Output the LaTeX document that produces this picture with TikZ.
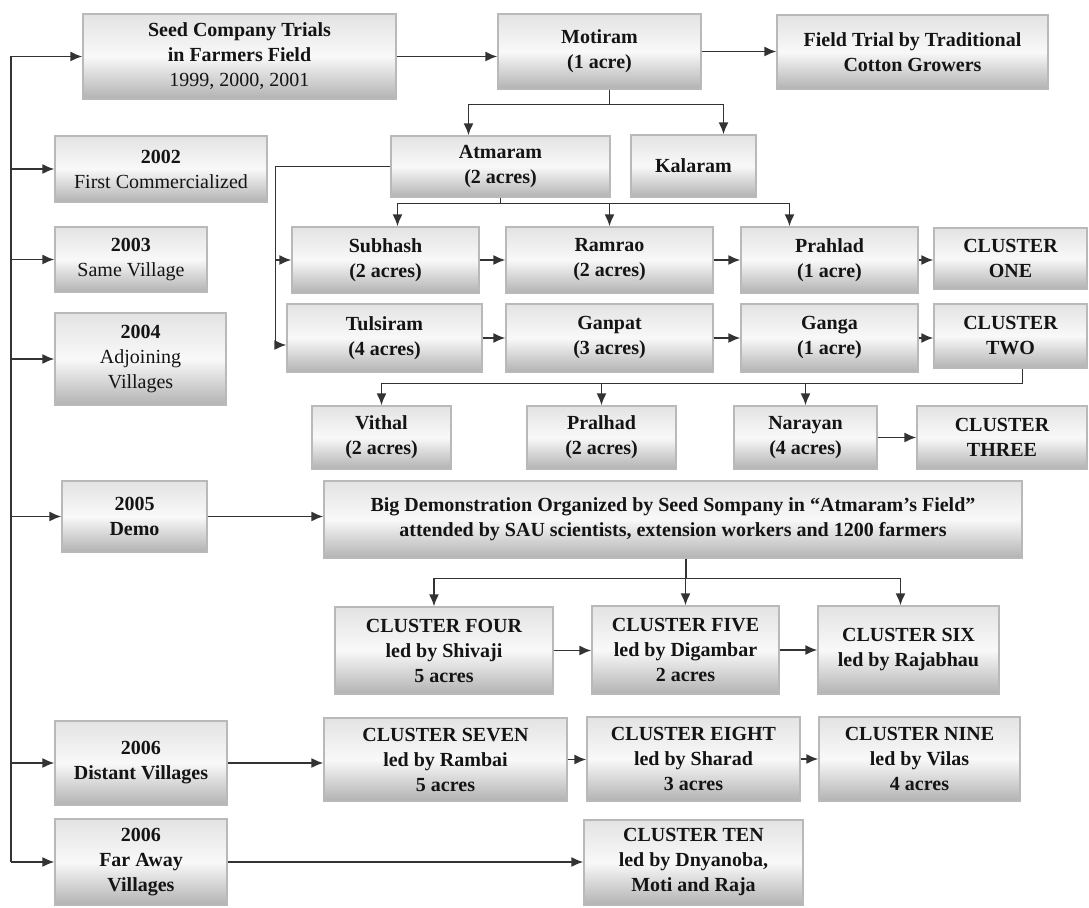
\documentclass[tikz,border=0pt]{standalone}
\usepackage{fontspec}
\setmainfont{Liberation Serif}
\usetikzlibrary{arrows.meta}

\begin{document}
\begin{tikzpicture}[x=0.5pt,y=-0.5pt,>={Latex[length=6pt,width=5pt]},
    box/.style={draw=gray!55,line width=0.6pt,top color=gray!22,bottom color=gray!60,middle color=gray!5,
        align=center,inner sep=1pt,text=black!92,font=\fontsize{10}{12.5}\selectfont\bfseries},
    arr/.style={->,line width=0.9pt,draw=black!80}]
    \useasboundingbox (0,0) rectangle (1089,908);

% 左侧年份
    \node[box,minimum width=156.5pt,minimum height=42.5pt] (seed) at (239.5,56.5) {Seed Company Trials\\in Farmers Field\\\mdseries 1999, 2000, 2001};
    \node[box,minimum width=106pt,minimum height=33pt] (y2002) at (161,169) {2002\\\mdseries First Commercialized};
    \node[box,minimum width=76pt,minimum height=32.5pt] (y2003) at (131,259.5) {2003\\\mdseries Same Village};
    \node[box,minimum width=85.5pt,minimum height=46pt] (y2004) at (140.5,359) {2004\\\mdseries Adjoining\\\mdseries Villages};
    \node[box,minimum width=72.5pt,minimum height=35.5pt] (y2005) at (134.5,516.5) {2005\\Demo};
    \node[box,minimum width=86pt,minimum height=42pt] (y2006a) at (141,763) {2006\\Distant Villages};
    \node[box,minimum width=86pt,minimum height=43pt] (y2006b) at (141,862) {2006\\Far Away\\Villages};

% 农户
    \node[box,minimum width=101.5pt,minimum height=37.5pt] (moti) at (599.5,51.5) {Motiram\\(1 acre)};
    \node[box,minimum width=135.5pt,minimum height=37pt] (field) at (912.5,52) {Field Trial by Traditional\\Cotton Growers};
    \node[box,minimum width=109.5pt,minimum height=30.5pt] (atma) at (500.5,166.5) {Atmaram\\(2 acres)};
    \node[box,minimum width=62.5pt,minimum height=31pt] (kala) at (693.5,166) {Kalaram};
    \node[box,minimum width=93.5pt,minimum height=33pt] (subh) at (385.5,260) {Subhash\\(2 acres)};
    \node[box,minimum width=103.5pt,minimum height=33pt] (ramr) at (609.5,260) {Ramrao\\(2 acres)};
    \node[box,minimum width=88.5pt,minimum height=33pt] (prah) at (829.5,260) {Prahlad\\(1 acre)};
    \node[box,minimum width=76.5pt,minimum height=30.5pt] (cl1) at (1010.5,258.5) {CLUSTER\\ONE};
    \node[box,minimum width=97.5pt,minimum height=34pt] (tuls) at (384.5,338) {Tulsiram\\(4 acres)};
    \node[box,minimum width=103.5pt,minimum height=34pt] (ganp) at (609.5,338) {Ganpat\\(3 acres)};
    \node[box,minimum width=88.5pt,minimum height=34pt] (gang) at (829.5,338) {Ganga\\(1 acre)};
    \node[box,minimum width=76.5pt,minimum height=32pt] (cl2) at (1010.5,336) {CLUSTER\\TWO};
    \node[box,minimum width=69.5pt,minimum height=31.5pt] (vith) at (381.5,437.5) {Vithal\\(2 acres)};
    \node[box,minimum width=74.5pt,minimum height=31.5pt] (pral) at (601.5,437.5) {Pralhad\\(2 acres)};
    \node[box,minimum width=71.5pt,minimum height=31.5pt] (nara) at (805.5,437.5) {Narayan\\(4 acres)};
    \node[box,minimum width=85pt,minimum height=31.5pt] (cl3) at (1002,437.5) {CLUSTER\\THREE};

% 示范及后续
    \node[box,minimum width=349pt,minimum height=38.5pt] (demo) at (673,519.5) {Big Demonstration Organized by Seed Sompany in ``Atmaram's Field''\\attended by SAU scientists, extension workers and 1200 farmers};
    \node[box,minimum width=109pt,minimum height=43.5pt] (cl4) at (444,650.5) {CLUSTER FOUR\\led by Shivaji\\5 acres};
    \node[box,minimum width=93.5pt,minimum height=44pt] (cl5) at (685.5,650) {CLUSTER FIVE\\led by Digambar\\2 acres};
    \node[box,minimum width=90.5pt,minimum height=44pt] (cl6) at (908.5,650) {CLUSTER SIX\\led by Rajabhau};
    \node[box,minimum width=121.5pt,minimum height=41.5pt] (cl7) at (445.5,759.5) {CLUSTER SEVEN\\led by Rambai\\5 acres};
    \node[box,minimum width=106.5pt,minimum height=42pt] (cl8) at (693.5,759) {CLUSTER EIGHT\\led by Sharad\\3 acres};
    \node[box,minimum width=100.5pt,minimum height=42pt] (cl9) at (919.5,759) {CLUSTER NINE\\led by Vilas\\4 acres};
    \node[box,minimum width=109.5pt,minimum height=42.5pt] (cl10) at (693.5,862.5) {CLUSTER TEN\\led by Dnyanoba,\\Moti and Raja};

% 左侧总线
    \coordinate (spine) at (11,0);
    \draw[arr] (spine |- y2006b.west) |- (seed.west);
    \draw[arr] (spine |- y2002.west) -- (y2002.west);
    \draw[arr] (spine |- y2003.west) -- (y2003.west);
    \draw[arr] (spine |- y2004.west) -- (y2004.west);
    \draw[arr] (spine |- y2005.west) -- (y2005.west);
    \draw[arr] (spine |- y2006a.west) -- (y2006a.west);
    \draw[arr] (spine |- y2006b.west) -- (y2006b.west);

% 第一行
    \draw[arr] (seed.east) -- (seed.east -| moti.west);
    \draw[arr] (moti.east) -- (moti.east -| field.west);
    \draw[arr] ([xshift=5pt]moti.south) -- ++(0,15) coordinate (mbus) -| ([xshift=-16pt]atma.north);
    \draw[arr] (mbus) -| ([xshift=15pt]kala.north);

% Atmaram 分支
    \draw[arr] (atma.south) -- ++(0,6) coordinate (abus) -| ([xshift=6pt]subh.north);
    \draw[arr] (abus) -| (ramr.north);
    \draw[arr] (abus) -| ([xshift=-20pt]prah.north);
    \draw[arr] (atma.west) -- ++(-115,0) coordinate (aleft) |- ([yshift=-3.5pt]tuls.west);
    \draw[arr] (aleft |- subh.west) -- (subh.west);

% 第一、二组
    \draw[arr] (subh.east) -- (subh.east -| ramr.west);
    \draw[arr] (ramr.east) -- (ramr.east -| prah.west);
    \draw[arr] (prah.east) -- (prah.east -| cl1.west);
    \draw[arr] (tuls.east) -- (tuls.east -| ganp.west);
    \draw[arr] (ganp.east) -- (ganp.east -| gang.west);
    \draw[arr] (gang.east) -- (gang.east -| cl2.west);

% 第三组
    \draw[arr] ([xshift=6pt]cl2.south) -- ++(0,15) coordinate (cbus) -| (vith.north);
    \draw[arr] (cbus) -| (pral.north);
    \draw[arr] (cbus) -| (nara.north);
    \draw[arr] (nara.east) -- (nara.east -| cl3.west);

% 示范
    \draw[arr] (y2005.east) -- (y2005.east -| demo.west);
    \draw[arr] ([xshift=6.5pt]demo.south) -- ++(0,20) coordinate (dbus) -| ([xshift=-5pt]cl4.north);
    \draw[arr] (dbus) -| (cl5.north);
    \draw[arr] (dbus) -| ([xshift=-4pt]cl6.north);
    \draw[arr] (cl4.east) -- (cl4.east -| cl5.west);
    \draw[arr] (cl5.east) -- (cl5.east -| cl6.west);

% 2006
    \draw[arr] (y2006a.east) -- (y2006a.east -| cl7.west);
    \draw[arr] (cl7.east) -- (cl7.east -| cl8.west);
    \draw[arr] (cl8.east) -- (cl8.east -| cl9.west);
    \draw[arr] (y2006b.east) -- (y2006b.east -| cl10.west);
\end{tikzpicture}
\end{document}
